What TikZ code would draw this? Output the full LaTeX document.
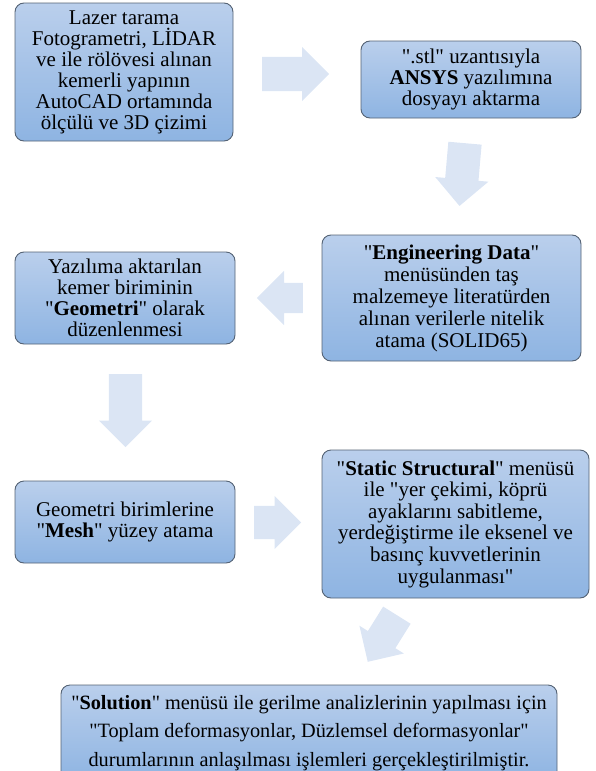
\documentclass[tikz,border=0pt]{standalone}
\usepackage{fontspec}
\setmainfont{Liberation Serif}[Ligatures=TeXOff]
\usetikzlibrary{shapes.arrows, positioning}
\definecolor{boxtop}{RGB}{186,207,236}
\definecolor{boxbottom}{RGB}{142,180,226}
\definecolor{boxline}{RGB}{84,98,116}
\definecolor{arrowfill}{RGB}{219,229,244}
\tikzset{
    box/.style={draw=boxline, line width=0.9pt, rounded corners=9pt, top color=boxtop, bottom color=boxbottom, align=center, inner sep=2pt, font=\fontsize{21}{21}\selectfont}, % the blue step boxes
    blockarrow/.style={single arrow, fill=arrowfill, draw=none, inner xsep=0pt, inner ysep=17pt, anchor=tail, single arrow head extend=10pt}, % the wide pale arrows, inner ysep is half the shaft
}
\begin{document}
\begin{tikzpicture}[x=1pt, y=-1pt]
                            \clip (0,0) rectangle (595,771);
                            \useasboundingbox (0,0) rectangle (595,771);
                            \node[box, minimum width=218pt, minimum height=138pt] (s1) at (124,72) {Lazer tarama\\Fotogrametri, LİDAR\\ve ile rölövesi alınan\\kemerli yapının\\AutoCAD ortamında\\ölçülü ve 3D çizimi};
                            \node[box, minimum width=220pt, minimum height=77pt] (s2) at (471,79.5) {".stl" uzantısıyla\\\textbf{ANSYS} yazılımına\\dosyayı aktarma};
                            \node[box, minimum width=259pt, minimum height=126pt, font=\fontsize{21}{22}\selectfont] (s3) at (451.5,298) {"\textbf{Engineering Data}"\\menüsünden taş\\malzemeye literatürden\\alınan verilerle nitelik\\atama (SOLID65)};
                            \node[box, minimum width=220pt, minimum height=92pt] (s4) at (125,298) {Yazılıma aktarılan\\kemer biriminin\\"\textbf{Geometri}" olarak\\düzenlenmesi};
                            \node[box, minimum width=220pt, minimum height=82pt] (s5) at (125,522) {Geometri birimlerine\\"\textbf{Mesh}" yüzey atama};
                            \node[box, minimum width=267pt, minimum height=148pt, font=\fontsize{21}{21.6}\selectfont] (s6) at (455.5,524) {"\textbf{Static Structural}" menüsü\\ile "yer çekimi, köprü\\ayaklarını sabitleme,\\yerdeğiştirme ile eksenel ve\\basınç kuvvetlerinin\\uygulanması"};
                            \node[box, minimum width=496pt, minimum height=96pt, font=\fontsize{20.3}{28.5}\selectfont] (s7) at (309,733) {"\textbf{Solution}" menüsü ile gerilme analizlerinin yapılması için\\"Toplam deformasyonlar, Düzlemsel deformasyonlar"\\durumlarının anlaşılması işlemleri gerçekleştirilmiştir.};
                            \node[blockarrow, minimum height=67pt] (a1) at (262,74) {};
                            \node[blockarrow, minimum height=63pt, inner ysep=16.5pt, rotate=265] (a2) at (465,143) {};
                            \node[blockarrow, minimum height=46pt, inner ysep=15pt, single arrow head extend=12pt, rotate=180] (a3) at (303,298) {};
                            \node[blockarrow, minimum height=73pt, inner ysep=16.5pt, rotate=270] (a4) at (125.5,374) {};
                            \node[blockarrow, minimum height=47pt, inner ysep=16.5pt] (a5) at (254,522.5) {};
                            \node[blockarrow, minimum height=55pt, inner ysep=16pt, rotate=238] (a6) at (397,615) {};
                        \end{tikzpicture}
\end{document}
